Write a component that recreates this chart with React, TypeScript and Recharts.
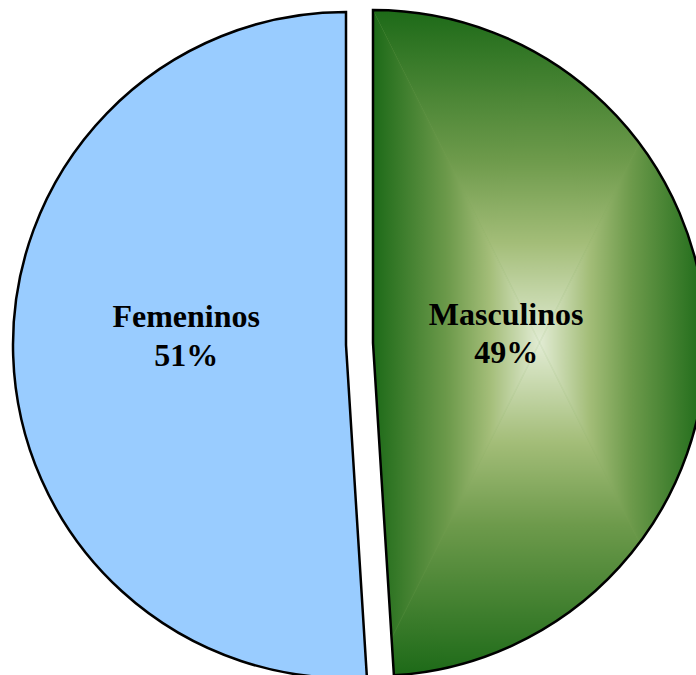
import React from "react";
import { PieChart, Pie, Cell } from "recharts";

const categories = ["Femeninos", "Masculinos"];
const values = [51, 49];
const percentLabels = ["51%", "49%"];

const data = categories.map((name, i) => ({ name, value: values[i], pct: percentLabels[i] }));

const R = 333;
const RAD = Math.PI / 180;

// per-slice label placement (radius fraction, vertical offsets of the two lines)
const labelCfg = [
  { r: 0.48, dy1: -23, dy2: 16 },
  { r: 0.4, dy1: -14, dy2: 24 },
];

const makeLabel = (which: number) => (props: any) => {
  const { cx, cy, midAngle, outerRadius, index } = props;
  if (index !== which) return null;
  const cfg = labelCfg[index];
  const rr = outerRadius * cfg.r;
  const x = cx + rr * Math.cos(-midAngle * RAD);
  const y = cy + rr * Math.sin(-midAngle * RAD);
  return (
    <text
      x={x}
      y={y}
      textAnchor="middle"
      fontFamily="'Liberation Serif', 'Times New Roman', serif"
      fontWeight="bold"
      fontSize={32}
      fill="#000"
    >
      <tspan x={x} y={y + cfg.dy1}>{data[index].name}</tspan>
      <tspan x={x} y={y + cfg.dy2}>{data[index].pct}</tspan>
    </text>
  );
};

const stops = (
  <>
    <stop offset="0" stopColor="#1d6a18" />
    <stop offset="0.45" stopColor="#6d9a4b" />
    <stop offset="0.7" stopColor="#a3bd78" />
    <stop offset="1" stopColor="#e2ecd4" />
  </>
);

export default function App() {
  return (
    <div style={{ position: "fixed", left: 0, top: 0, width: 696, height: 675, background: "#fff" }}>
      <PieChart width={696} height={675} margin={{ top: 0, right: 0, bottom: 0, left: 0 }}>
        <defs>
          <linearGradient id="gTop" x1="0" y1="0" x2="0" y2="1">{stops}</linearGradient>
          <linearGradient id="gBottom" x1="0" y1="1" x2="0" y2="0">{stops}</linearGradient>
          <linearGradient id="gLeft" x1="0" y1="0" x2="1" y2="0">{stops}</linearGradient>
          <linearGradient id="gRight" x1="1" y1="0" x2="0" y2="0">{stops}</linearGradient>
          <pattern
            id="rectGrad"
            patternUnits="objectBoundingBox"
            patternContentUnits="objectBoundingBox"
            x="0"
            y="0"
            width="1"
            height="1"
          >
            <rect x="0" y="0" width="1" height="1" fill="#7aa455" />
            <polygon points="0,0 1,0 0.5,0.5" fill="url(#gTop)" />
            <polygon points="0,1 1,1 0.5,0.5" fill="url(#gBottom)" />
            <polygon points="0,0 0,1 0.5,0.5" fill="url(#gLeft)" />
            <polygon points="1,0 1,1 0.5,0.5" fill="url(#gRight)" />
          </pattern>
        </defs>
        <Pie
          data={data}
          dataKey="value"
          nameKey="name"
          cx={346}
          cy={345}
          outerRadius={R}
          startAngle={90}
          endAngle={450}
          isAnimationActive={false}
          labelLine={false}
          label={makeLabel(0)}
        >
          <Cell fill="#99ccff" stroke="#000" strokeWidth={2.5} />
          <Cell fill="none" stroke="none" />
        </Pie>
        <Pie
          data={data}
          dataKey="value"
          nameKey="name"
          cx={373}
          cy={343}
          outerRadius={R}
          startAngle={90}
          endAngle={450}
          isAnimationActive={false}
          labelLine={false}
          label={makeLabel(1)}
        >
          <Cell fill="none" stroke="none" />
          <Cell fill="url(#rectGrad)" stroke="#000" strokeWidth={2.5} />
        </Pie>
      </PieChart>
    </div>
  );
}
